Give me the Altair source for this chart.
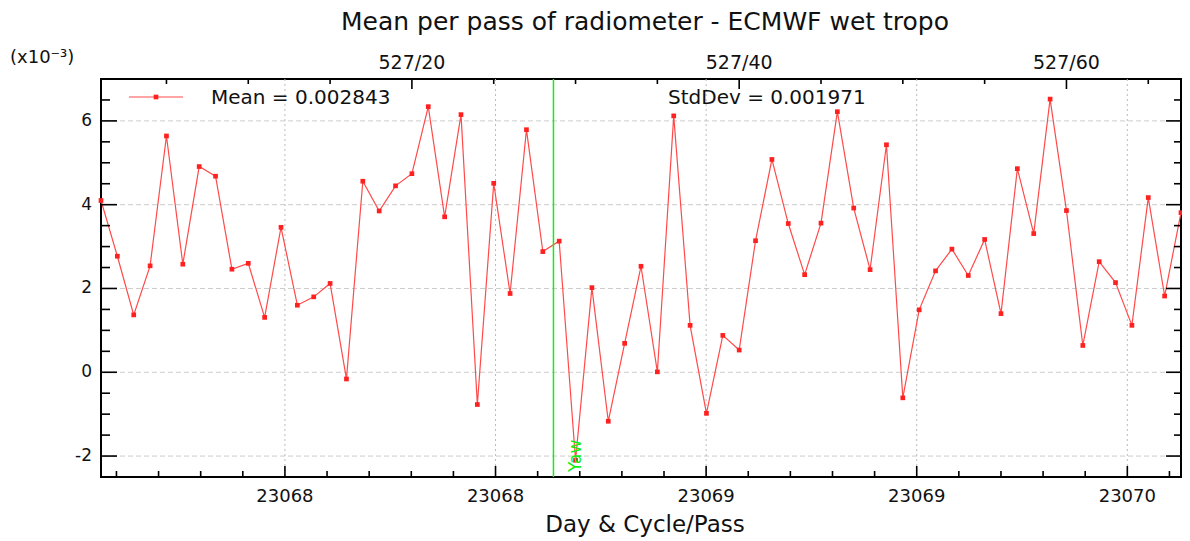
import altair as alt
import pandas as pd

# ---------------- data ----------------
passes = list(range(1, 68))
means_e3 = [4.10, 2.77, 1.37, 2.54, 5.64, 2.58, 4.91, 4.68, 2.46, 2.60,
            1.31, 3.46, 1.60, 1.80, 2.12, -0.16, 4.56, 3.85, 4.45, 4.74,
            6.34, 3.71, 6.15, -0.77, 4.51, 1.88, 5.79, 2.88, 3.13, -2.10,
            2.02, -1.17, 0.69, 2.53, 0.01, 6.12, 1.12, -0.98, 0.88, 0.53,
            3.14, 5.08, 3.55, 2.33, 3.56, 6.22, 3.92, 2.45, 5.43, -0.61,
            1.49, 2.42, 2.94, 2.31, 3.17, 1.40, 4.86, 3.31, 6.52, 3.86,
            0.64, 2.64, 2.14, 1.12, 4.17, 1.82, 3.81]

y_major = [-2, 0, 2, 4, 6]
y_major_labels = ["-2", "0", "2", "4", "6"]
y_minor = [-2.5, -1.5, -1, -0.5, 0.5, 1, 1.5, 2.5, 3, 3.5, 4.5, 5, 5.5, 6.5, 7]

bottom_major = [12.24, 25.11, 37.98, 50.85, 63.72]
bottom_labels = ["23068", "23068", "23069", "23069", "23070"]
bottom_minor_step = 2.574

top_major = [20, 40, 60]
top_labels = ["527/20", "527/40", "527/60"]
top_minor = [5, 10, 15, 25, 30, 35, 45, 50, 55, 65]

yaw_pass = [28.65]
mean_label = "Mean = 0.002843"
std_label = "StdDev = 0.001971"
title_text = "Mean per pass of radiometer - ECMWF wet tropo"
x_title = "Day & Cycle/Pass"
y_unit = "(x10\u207b\u00b3)"

# ---------------- layout ----------------
W, H = 1080, 398
RED_LINE = "#ff4a4a"
RED_PT = "#ff2020"
GREEN = "#11ee11"
FONT = "DejaVu Sans"
TXT = "#111111"

df = pd.DataFrame({"pass": passes, "mean": means_e3})

xscale = alt.Scale(domain=[1, 67], nice=False, zero=False)
yscale = alt.Scale(domain=[-2.5, 7], nice=False, zero=False)

X = lambda f: alt.X(f, scale=xscale, axis=None)
Y = lambda f: alt.Y(f, scale=yscale, axis=None)

# grid
hgrid = alt.Chart(pd.DataFrame({"v": y_major})).mark_rule(
    color="#cccccc", strokeWidth=1, strokeDash=[5, 3]).encode(y=Y("v:Q"))
vgrid = alt.Chart(pd.DataFrame({"v": bottom_major})).mark_rule(
    color="#bbbbbb", strokeWidth=1, strokeDash=[2, 3]).encode(x=X("v:Q"))

line = alt.Chart(df).mark_line(color=RED_LINE, strokeWidth=1.2).encode(
    x=X("pass:Q"), y=Y("mean:Q"))
points = alt.Chart(df).mark_square(size=22, color=RED_PT, opacity=1).encode(
    x=X("pass:Q"), y=Y("mean:Q"))


def hticks(vals, x0, x1):
    return alt.Chart(pd.DataFrame({"v": vals})).mark_rule(
        color="black", strokeWidth=1.6).encode(
        y=Y("v:Q"), x=alt.value(x0), x2=alt.value(x1))


def vticks(vals, y0, y1):
    return alt.Chart(pd.DataFrame({"v": vals})).mark_rule(
        color="black", strokeWidth=1.6).encode(
        x=X("v:Q"), y=alt.value(y0), y2=alt.value(y1))


bottom_minor = []
k = bottom_major[0]
while k - bottom_minor_step > 1:
    k -= bottom_minor_step
while k < 67:
    if all(abs(k - m) > 0.1 for m in bottom_major):
        bottom_minor.append(round(k, 3))
    k += bottom_minor_step

ticks = [
    hticks(y_major, 0, 16), hticks(y_minor, 0, 9),
    hticks(y_major, W - 15, W), hticks(y_minor, W - 7, W),
    vticks(bottom_major, H, H - 11), vticks(bottom_minor, H, H - 6),
    vticks(top_major, 0, 10), vticks(top_minor, 0, 5),
]

# tick labels
ylab = alt.Chart(pd.DataFrame({"v": y_major, "t": y_major_labels})).mark_text(
    fontSize=17, font=FONT, color=TXT, align="right", baseline="middle").encode(
    y=Y("v:Q"), x=alt.value(-9), text="t:N")
blab = alt.Chart(pd.DataFrame({"v": bottom_major, "t": bottom_labels})).mark_text(
    fontSize=18, font=FONT, color=TXT, baseline="alphabetic").encode(
    x=X("v:Q"), y=alt.value(H + 25), text="t:N")
top_text = alt.Chart(pd.DataFrame({"p": top_major, "t": top_labels})).mark_text(
    fontSize=19, font=FONT, color=TXT, baseline="alphabetic").encode(
    x=X("p:Q"), y=alt.value(-10), text="t:N")

# yaw marker
yaw_df = pd.DataFrame({"p": yaw_pass})
yaw_rule = alt.Chart(yaw_df).mark_rule(color=GREEN, strokeWidth=1.5).encode(x=X("p:Q"))
yaw_text = alt.Chart(yaw_df).mark_text(
    text="Yaw", color=GREEN, angle=270, align="left", baseline="alphabetic",
    fontSize=17, font=FONT).encode(
    x=X("p:Q"), y=alt.value(393), xOffset=alt.value(28))

# titles
one = pd.DataFrame({"a": [0]})
title = alt.Chart(one).mark_text(
    text=title_text, fontSize=25, font=FONT, color=TXT, baseline="alphabetic").encode(
    x=alt.value(W / 2 + 4), y=alt.value(-49))
xlab = alt.Chart(one).mark_text(
    text=x_title, fontSize=23, font=FONT, color=TXT, baseline="alphabetic").encode(
    x=alt.value(W / 2 + 4), y=alt.value(H + 55))
yunit = alt.Chart(one).mark_text(
    text=y_unit, fontSize=18, font=FONT, color=TXT, baseline="alphabetic",
    align="left").encode(x=alt.value(-91), y=alt.value(-16))

# legend
leg_line = alt.Chart(one).mark_rule(color=RED_LINE, strokeWidth=1.2).encode(
    x=alt.value(28), x2=alt.value(82), y=alt.value(18))
leg_pt = alt.Chart(one).mark_square(size=22, color=RED_PT, opacity=1).encode(
    x=alt.value(55), y=alt.value(18))
leg_mean = alt.Chart(one).mark_text(
    text=mean_label, fontSize=20, font=FONT, color=TXT, align="left",
    baseline="alphabetic").encode(x=alt.value(110), y=alt.value(25))
leg_std = alt.Chart(one).mark_text(
    text=std_label, fontSize=20, font=FONT, color=TXT, align="left",
    baseline="alphabetic").encode(x=alt.value(567), y=alt.value(25))

chart = alt.layer(
    hgrid, vgrid, line, points, *ticks, ylab, blab, top_text,
    yaw_rule, yaw_text, title, xlab, yunit,
    leg_line, leg_pt, leg_mean, leg_std,
).properties(
    width=W, height=H,
    autosize=alt.AutoSizeParams(type="none"),
    padding={"left": 93, "top": 71, "right": 1, "bottom": 62},
    background="white",
).configure_view(stroke="black", strokeWidth=2)

chart.save("out.html", embed_options={"renderer": "svg", "actions": False})
